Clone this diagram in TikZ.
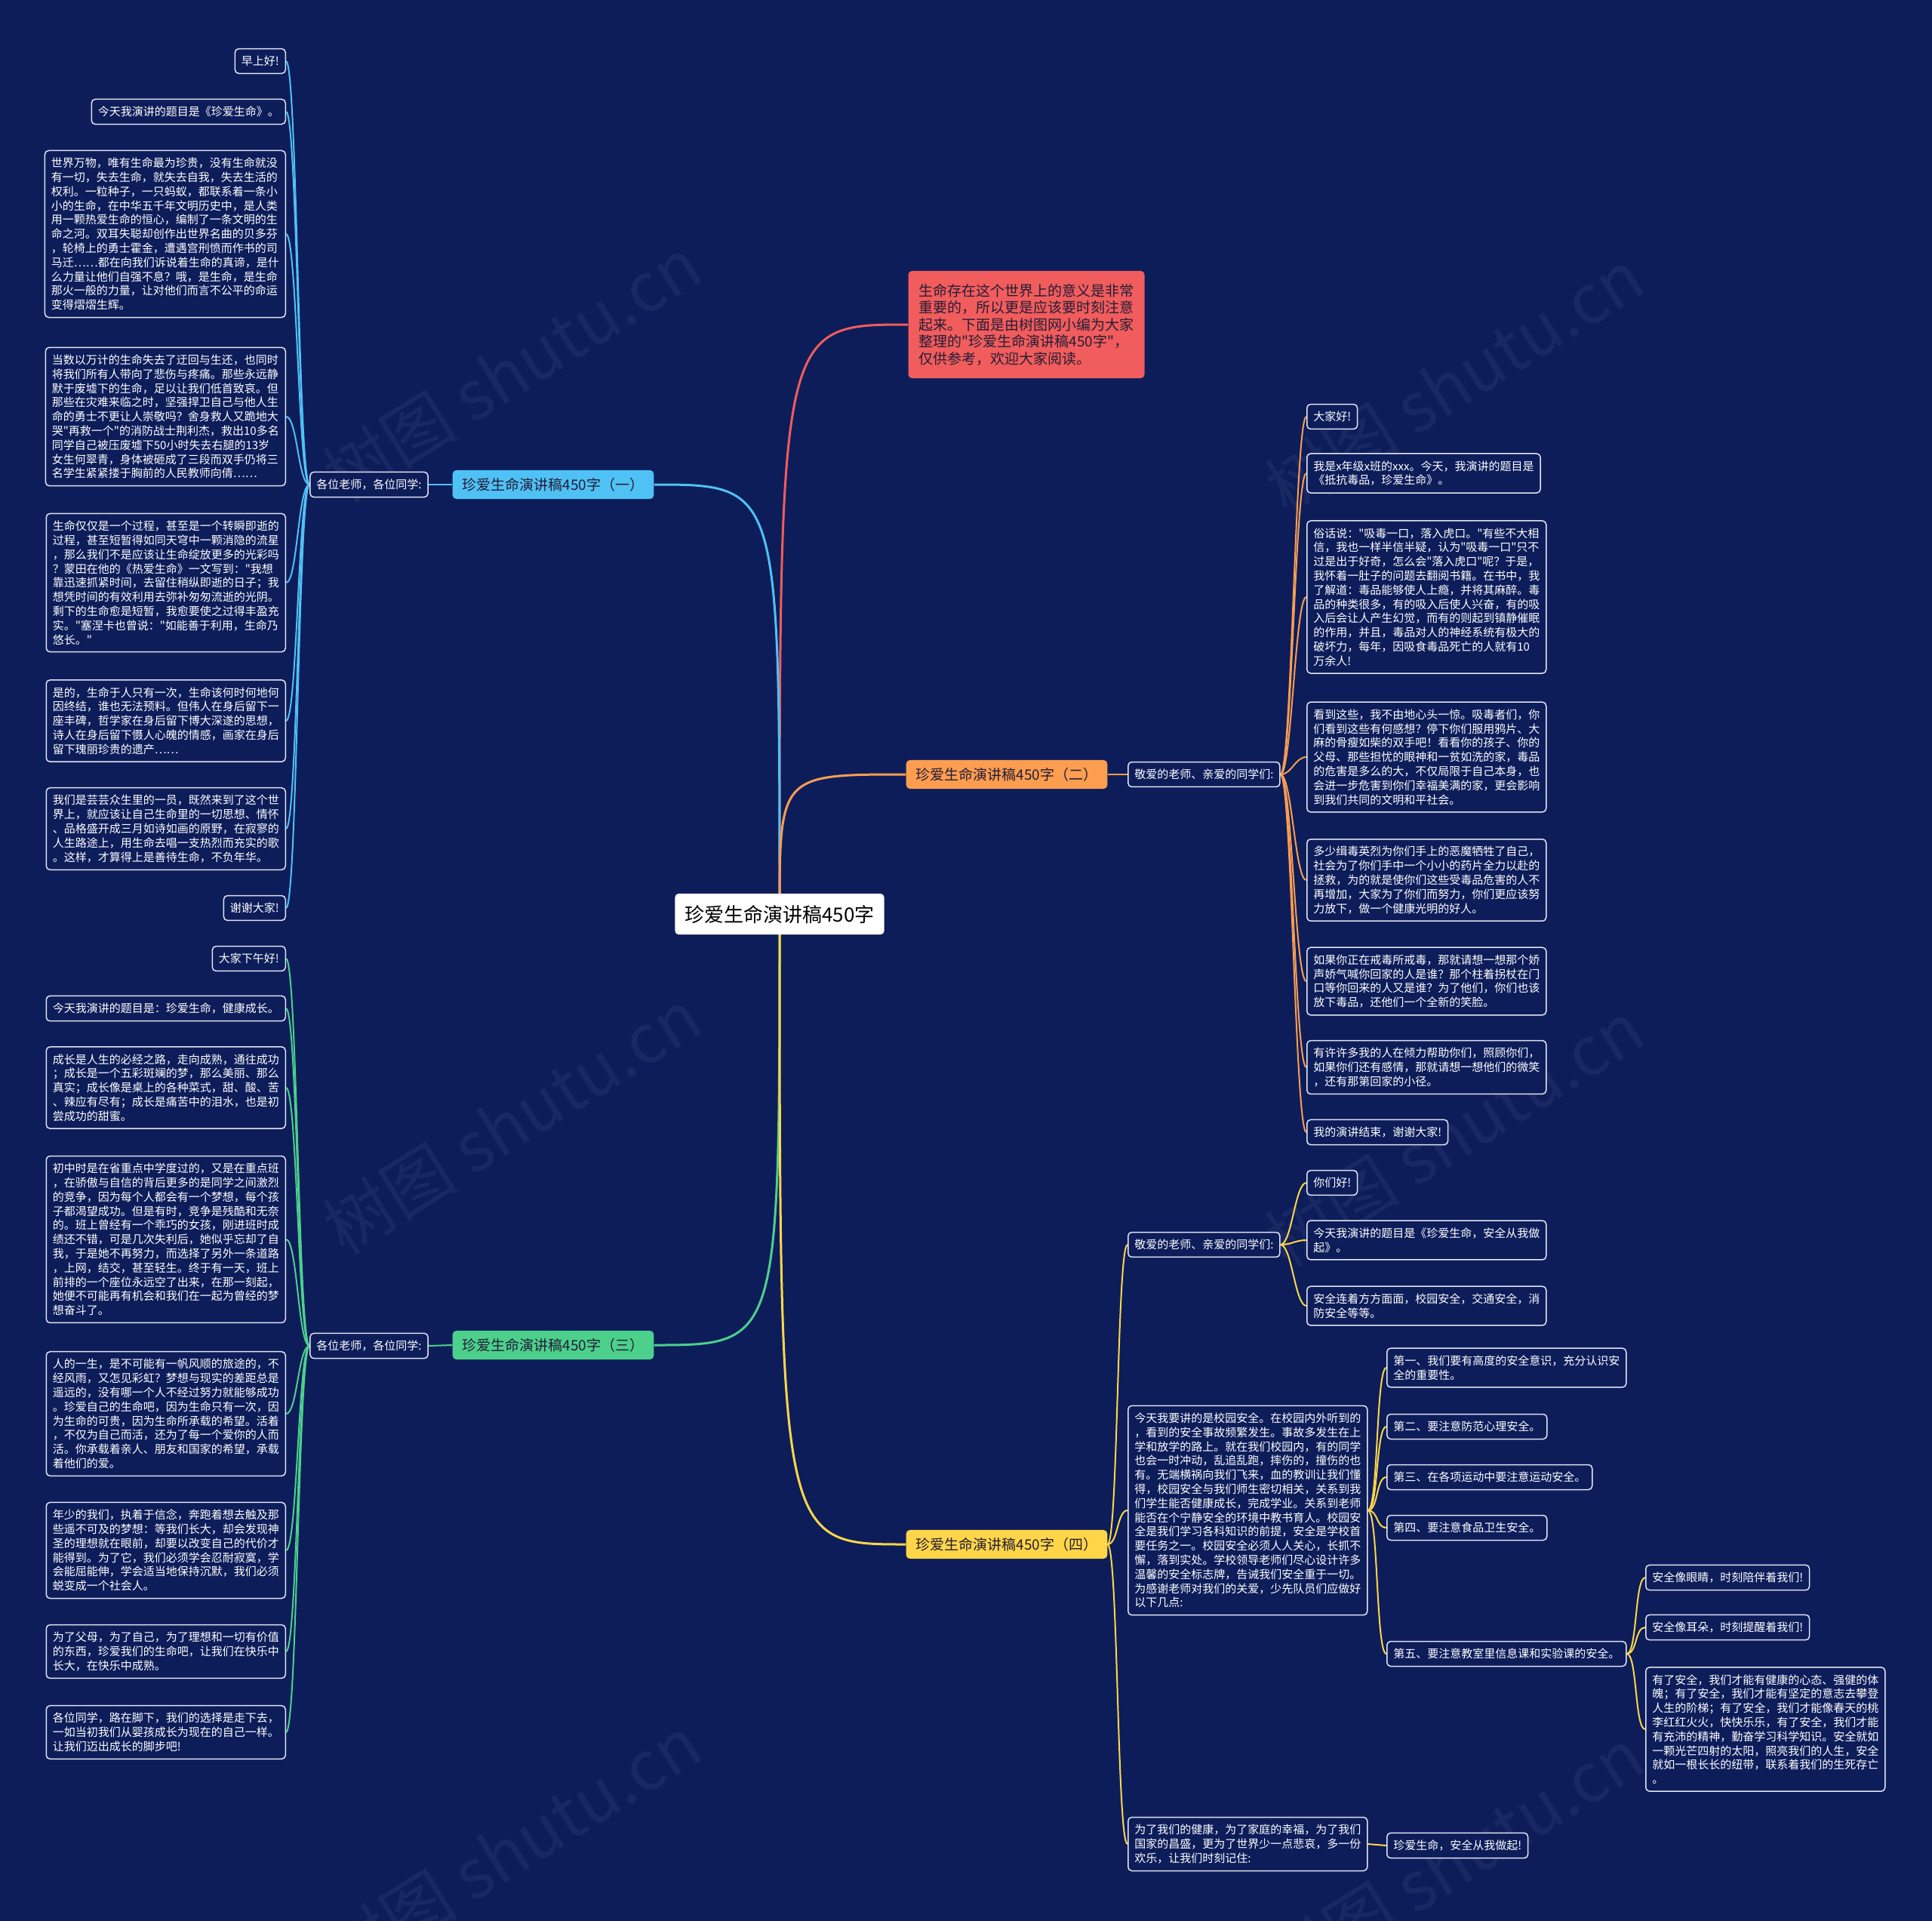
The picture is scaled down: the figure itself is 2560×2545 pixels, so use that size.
\documentclass[tikz,border=0pt]{standalone}
\usepackage{fontspec}
\newfontfamily\zhfont{Noto Sans CJK SC}
\usetikzlibrary{positioning}

\definecolor{navy}{RGB}{13,29,90}
\definecolor{edgewhite}{RGB}{225,228,240}
\definecolor{redfill}{RGB}{241,92,92}
\definecolor{bluefill}{RGB}{79,193,245}
\definecolor{orangefill}{RGB}{252,157,80}
\definecolor{greenfill}{RGB}{76,208,140}
\definecolor{yellowfill}{RGB}{255,214,72}
\definecolor{darktext}{RGB}{35,30,55}

\pgfdeclarelayer{bg}
\pgfdeclarelayer{links}
\pgfsetlayers{bg,links,main}

\tikzset{
  leaf/.style={draw=edgewhite, fill=navy, line width=1.5pt, rounded corners=5pt, text=white,
    align=left, inner xsep=8.5pt, inner ysep=9.5pt, font=\zhfont\fontsize{15}{18.8}\selectfont},
  topic/.style={rounded corners=5pt, text=darktext, inner xsep=13pt, inner ysep=10pt,
    font=\zhfont\fontsize{19}{22}\selectfont},
  sublink/.style={line width=2pt},
  mainlink/.style={line width=3pt},
  wmark/.style={text=white, opacity=0.05, rotate=32, font=\zhfont\fontsize{90}{90}\selectfont}
}

\begin{document}
\begin{tikzpicture}[x=1pt,y=-1pt]
    \useasboundingbox (0,0) rectangle (2560,2545);
    \begin{pgfonlayer}{bg}
    \fill[navy] (0,0) rectangle (2560,2545);
    \foreach \x/\y [count=\i] in {678/490,1927/506,678/1486,1927/1502,678/2449,1927/2465}
        \node[wmark] (wm\i) at (\x,\y) {树图 shutu.cn};
    \end{pgfonlayer}

    % centre and main topics
    \node[fill=white, rounded corners=5pt, text=black, inner xsep=13pt, inner ysep=15pt,
        font=\zhfont\fontsize{26}{30}\selectfont] (ctr) at (1033,1211) {珍爱生命演讲稿450字};
    \node[topic, fill=redfill, align=left, inner xsep=14pt, inner ysep=17pt,
        font=\zhfont\fontsize{19}{22.5}\selectfont] (rd) at (1360,430)
        {生命存在这个世界上的意义是非常\\重要的，所以更是应该要时刻注意\\起来。下面是由树图网小编为大家\\整理的"珍爱生命演讲稿450字"，\\仅供参考，欢迎大家阅读。};
    \node[topic, fill=bluefill] (bt) at (733,642) {珍爱生命演讲稿450字（一）};
    \node[topic, fill=orangefill] (ot) at (1334,1026) {珍爱生命演讲稿450字（二）};
    \node[topic, fill=greenfill] (gt) at (733,1782) {珍爱生命演讲稿450字（三）};
    \node[topic, fill=yellowfill] (yt) at (1334,2046) {珍爱生命演讲稿450字（四）};

    % (一)
    \node[leaf] (bmid) at (489,642) {各位老师，各位同学:};
    \node[leaf, anchor=east] (b1) at (379,81) {早上好!};
    \node[leaf, anchor=east] (b2) at (379,148) {今天我演讲的题目是《珍爱生命》。};
    \node[leaf, anchor=east] (b3) at (379,310) {世界万物，唯有生命最为珍贵，没有生命就没\\有一切，失去生命，就失去自我，失去生活的\\权利。一粒种子，一只蚂蚁，都联系着一条小\\小的生命，在中华五千年文明历史中，是人类\\用一颗热爱生命的恒心，编制了一条文明的生\\命之河。双耳失聪却创作出世界名曲的贝多芬\\，轮椅上的勇士霍金，遭遇宫刑愤而作书的司\\马迁……都在向我们诉说着生命的真谛，是什\\么力量让他们自强不息？哦，是生命，是生命\\那火一般的力量，让对他们而言不公平的命运\\变得熠熠生辉。};
    \node[leaf, anchor=east] (b4) at (379,552) {当数以万计的生命失去了迂回与生还，也同时\\将我们所有人带向了悲伤与疼痛。那些永远静\\默于废墟下的生命，足以让我们低首致哀。但\\那些在灾难来临之时，坚强捍卫自己与他人生\\命的勇士不更让人崇敬吗？舍身救人又跪地大\\哭"再救一个"的消防战士荆利杰，救出10多名\\同学自己被压废墟下50小时失去右腿的13岁\\女生何翠青，身体被砸成了三段而双手仍将三\\名学生紧紧搂于胸前的人民教师向倩……};
    \node[leaf, anchor=east] (b5) at (379,772) {生命仅仅是一个过程，甚至是一个转瞬即逝的\\过程，甚至短暂得如同天穹中一颗消隐的流星\\，那么我们不是应该让生命绽放更多的光彩吗\\？蒙田在他的《热爱生命》一文写到："我想\\靠迅速抓紧时间，去留住稍纵即逝的日子；我\\想凭时间的有效利用去弥补匆匆流逝的光阴。\\剩下的生命愈是短暂，我愈要使之过得丰盈充\\实。"塞涅卡也曾说："如能善于利用，生命乃\\悠长。"};
    \node[leaf, anchor=east] (b6) at (379,955) {是的，生命于人只有一次，生命该何时何地何\\因终结，谁也无法预料。但伟人在身后留下一\\座丰碑，哲学家在身后留下博大深遂的思想，\\诗人在身后留下慑人心魄的情感，画家在身后\\留下瑰丽珍贵的遗产……};
    \node[leaf, anchor=east] (b7) at (379,1098) {我们是芸芸众生里的一员，既然来到了这个世\\界上，就应该让自己生命里的一切思想、情怀\\、品格盛开成三月如诗如画的原野，在寂寥的\\人生路途上，用生命去唱一支热烈而充实的歌\\。这样，才算得上是善待生命，不负年华。};
    \node[leaf, anchor=east] (b8) at (379,1203) {谢谢大家!};

    % (二)
    \node[leaf, anchor=west] (omid) at (1494,1026) {敬爱的老师、亲爱的同学们:};
    \node[leaf, anchor=west] (o1) at (1731,552) {大家好!};
    \node[leaf, anchor=west] (o2) at (1731,627) {我是x年级x班的xxx。今天，我演讲的题目是\\《抵抗毒品，珍爱生命》。};
    \node[leaf, anchor=west] (o3) at (1731,791) {俗话说："吸毒一口，落入虎口。"有些不大相\\信，我也一样半信半疑，认为"吸毒一口"只不\\过是出于好奇，怎么会"落入虎口"呢？于是，\\我怀着一肚子的问题去翻阅书籍。在书中，我\\了解道：毒品能够使人上瘾，并将其麻醉。毒\\品的种类很多，有的吸入后使人兴奋，有的吸\\入后会让人产生幻觉，而有的则起到镇静催眠\\的作用，并且，毒品对人的神经系统有极大的\\破坏力，每年，因吸食毒品死亡的人就有10\\万余人!};
    \node[leaf, anchor=west] (o4) at (1731,1003) {看到这些，我不由地心头一惊。吸毒者们，你\\们看到这些有何感想？停下你们服用鸦片、大\\麻的骨瘦如柴的双手吧！看看你的孩子、你的\\父母、那些担忧的眼神和一贫如洗的家，毒品\\的危害是多么的大，不仅局限于自己本身，也\\会进一步危害到你们幸福美满的家，更会影响\\到我们共同的文明和平社会。};
    \node[leaf, anchor=west] (o5) at (1731,1166) {多少缉毒英烈为你们手上的恶魔牺牲了自己，\\社会为了你们手中一个小小的药片全力以赴的\\拯救，为的就是使你们这些受毒品危害的人不\\再增加，大家为了你们而努力，你们更应该努\\力放下，做一个健康光明的好人。};
    \node[leaf, anchor=west] (o6) at (1731,1300) {如果你正在戒毒所戒毒，那就请想一想那个娇\\声娇气喊你回家的人是谁？那个柱着拐杖在门\\口等你回来的人又是谁？为了他们，你们也该\\放下毒品，还他们一个全新的笑脸。};
    \node[leaf, anchor=west] (o7) at (1731,1414) {有许许多我的人在倾力帮助你们，照顾你们，\\如果你们还有感情，那就请想一想他们的微笑\\，还有那第回家的小径。};
    \node[leaf, anchor=west] (o8) at (1731,1500) {我的演讲结束，谢谢大家!};

    % (三)
    \node[leaf] (gmid) at (489,1783) {各位老师，各位同学:};
    \node[leaf, anchor=east] (g1) at (379,1270) {大家下午好!};
    \node[leaf, anchor=east] (g2) at (379,1336) {今天我演讲的题目是：珍爱生命，健康成长。};
    \node[leaf, anchor=east] (g3) at (379,1441) {成长是人生的必经之路，走向成熟，通往成功\\；成长是一个五彩斑斓的梦，那么美丽、那么\\真实；成长像是桌上的各种菜式，甜、酸、苦\\、辣应有尽有；成长是痛苦中的泪水，也是初\\尝成功的甜蜜。};
    \node[leaf, anchor=east] (g4) at (379,1642) {初中时是在省重点中学度过的，又是在重点班\\，在骄傲与自信的背后更多的是同学之间激烈\\的竞争，因为每个人都会有一个梦想，每个孩\\子都渴望成功。但是有时，竞争是残酷和无奈\\的。班上曾经有一个乖巧的女孩，刚进班时成\\绩还不错，可是几次失利后，她似乎忘却了自\\我，于是她不再努力，而选择了另外一条道路\\，上网，结交，甚至轻生。终于有一天，班上\\前排的一个座位永远空了出来，在那一刻起，\\她便不可能再有机会和我们在一起为曾经的梦\\想奋斗了。};
    \node[leaf, anchor=east] (g5) at (379,1873) {人的一生，是不可能有一帆风顺的旅途的，不\\经风雨，又怎见彩虹？梦想与现实的差距总是\\遥远的，没有哪一个人不经过努力就能够成功\\。珍爱自己的生命吧，因为生命只有一次，因\\为生命的可贵，因为生命所承载的希望。活着\\，不仅为自己而活，还为了每一个爱你的人而\\活。你承载着亲人、朋友和国家的希望，承载\\着他们的爱。};
    \node[leaf, anchor=east] (g6) at (379,2054) {年少的我们，执着于信念，奔跑着想去触及那\\些遥不可及的梦想：等我们长大，却会发现神\\圣的理想就在眼前，却要以改变自己的代价才\\能得到。为了它，我们必须学会忍耐寂寞，学\\会能屈能伸，学会适当地保持沉默，我们必须\\蜕变成一个社会人。};
    \node[leaf, anchor=east] (g7) at (379,2188) {为了父母，为了自己，为了理想和一切有价值\\的东西，珍爱我们的生命吧，让我们在快乐中\\长大，在快乐中成熟。};
    \node[leaf, anchor=east] (g8) at (379,2295) {各位同学，路在脚下，我们的选择是走下去，\\一如当初我们从婴孩成长为现在的自己一样。\\让我们迈出成长的脚步吧!};

    % (四)
    \node[leaf, anchor=west] (ymid1) at (1494,1649) {敬爱的老师、亲爱的同学们:};
    \node[leaf, anchor=west] (y1) at (1731,1567) {你们好!};
    \node[leaf, anchor=west] (y2) at (1731,1643) {今天我演讲的题目是《珍爱生命，安全从我做\\起》。};
    \node[leaf, anchor=west] (y3) at (1731,1730) {安全连着方方面面，校园安全，交通安全，消\\防安全等等。};
    \node[leaf, anchor=west] (ymid2) at (1494,2001) {今天我要讲的是校园安全。在校园内外听到的\\，看到的安全事故频繁发生。事故多发生在上\\学和放学的路上。就在我们校园内，有的同学\\也会一时冲动，乱追乱跑，摔伤的，撞伤的也\\有。无端横祸向我们飞来，血的教训让我们懂\\得，校园安全与我们师生密切相关，关系到我\\们学生能否健康成长，完成学业。关系到老师\\能否在个宁静安全的环境中教书育人。校园安\\全是我们学习各科知识的前提，安全是学校首\\要任务之一。校园安全必须人人关心，长抓不\\懈，落到实处。学校领导老师们尽心设计许多\\温馨的安全标志牌，告诫我们安全重于一切。\\为感谢老师对我们的关爱，少先队员们应做好\\以下几点:};
    \node[leaf, anchor=west] (y4) at (1837,1812) {第一、我们要有高度的安全意识，充分认识安\\全的重要性。};
    \node[leaf, anchor=west] (y5) at (1837,1890) {第二、要注意防范心理安全。};
    \node[leaf, anchor=west] (y6) at (1837,1957) {第三、在各项运动中要注意运动安全。};
    \node[leaf, anchor=west] (y7) at (1837,2024) {第四、要注意食品卫生安全。};
    \node[leaf, anchor=west] (y8) at (1837,2191) {第五、要注意教室里信息课和实验课的安全。};
    \node[leaf, anchor=west] (y9) at (2180,2090) {安全像眼睛，时刻陪伴着我们!};
    \node[leaf, anchor=west] (y10) at (2180,2156) {安全像耳朵，时刻提醒着我们!};
    \node[leaf, anchor=west] (y11) at (2180,2291) {有了安全，我们才能有健康的心态、强健的体\\魄；有了安全，我们才能有坚定的意志去攀登\\人生的阶梯；有了安全，我们才能像春天的桃\\李红红火火，快快乐乐，有了安全，我们才能\\有充沛的精神，勤奋学习科学知识。安全就如\\一颗光芒四射的太阳，照亮我们的人生，安全\\就如一根长长的纽带，联系着我们的生死存亡\\。};
    \node[leaf, anchor=west] (ymid3) at (1494,2443) {为了我们的健康，为了家庭的幸福，为了我们\\国家的昌盛，更为了世界少一点悲哀，多一份\\欢乐，让我们时刻记住:};
    \node[leaf, anchor=west] (y12) at (1837,2445) {珍爱生命，安全从我做起!};

    \begin{pgfonlayer}{links}
    \draw[mainlink, redfill] (ctr.center) .. controls (ctr.center |- rd.west) .. (rd.west);
    \draw[mainlink, bluefill] (ctr.center) .. controls (ctr.center |- bt.east) .. (bt.east);
    \draw[mainlink, orangefill] (ctr.center) .. controls (ctr.center |- ot.west) .. (ot.west);
    \draw[mainlink, greenfill] (ctr.center) .. controls (ctr.center |- gt.east) .. (gt.east);
    \draw[mainlink, yellowfill] (ctr.center) .. controls (ctr.center |- yt.west) .. (yt.west);

    \draw[sublink, bluefill] (bt.west) -- (bmid.east);
    \foreach \i in {1,...,8}
        \draw[sublink, bluefill] (bmid.west) .. controls +(-15,0) and +(15,0) .. (b\i.east);
    \draw[sublink, orangefill] (ot.east) -- (omid.west);
    \foreach \i in {1,...,8}
        \draw[sublink, orangefill] (omid.east) .. controls +(15,0) and +(-15,0) .. (o\i.west);
    \draw[sublink, greenfill] (gt.west) -- (gmid.east);
    \foreach \i in {1,...,8}
        \draw[sublink, greenfill] (gmid.west) .. controls +(-15,0) and +(15,0) .. (g\i.east);

    \foreach \m in {ymid1,ymid2,ymid3}
        \draw[sublink, yellowfill] (yt.east) .. controls +(14,0) and +(-14,0) .. (\m.west);
    \foreach \i in {1,2,3}
        \draw[sublink, yellowfill] (ymid1.east) .. controls +(15,0) and +(-15,0) .. (y\i.west);
    \foreach \i in {4,...,8}
        \draw[sublink, yellowfill] (ymid2.east) .. controls +(14,0) and +(-14,0) .. (y\i.west);
    \foreach \i in {9,10,11}
        \draw[sublink, yellowfill] (y8.east) .. controls +(14,0) and +(-14,0) .. (y\i.west);
    \draw[sublink, yellowfill] (ymid3.east) -- (y12.west);
    \end{pgfonlayer}
\end{tikzpicture}
\end{document}
